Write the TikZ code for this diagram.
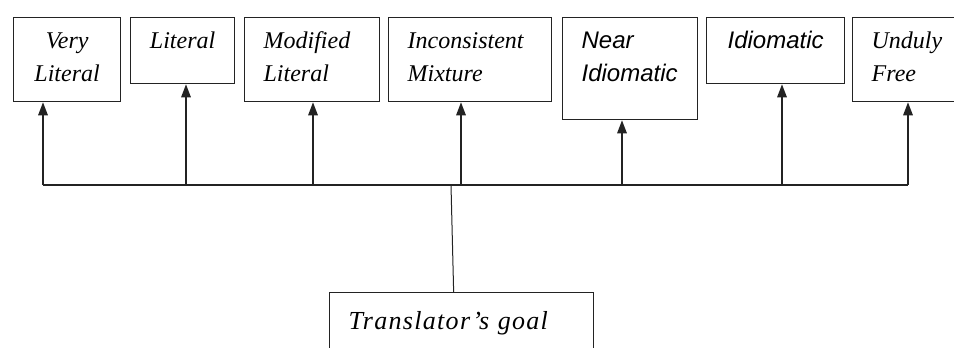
\documentclass[tikz,border=0pt]{standalone}
\usepackage{fontspec}
\setmainfont{Liberation Serif}
\setsansfont{Liberation Sans}
\newfontfamily\goalfont[LetterSpace=5]{Liberation Serif}
\usepackage{tikz}
\usetikzlibrary{arrows.meta, positioning}
\definecolor{LineDark}{RGB}{35,35,35}
\tikzset{
  basebox/.style={rectangle,draw=LineDark,line width=1.3pt,anchor=north west,
    inner xsep=19pt,inner ysep=14pt,text height=17pt},
  serifbox/.style={basebox,font=\fontsize{24pt}{33pt}\selectfont\itshape},
  sansbox/.style={basebox,font=\fontsize{24pt}{33pt}\selectfont\sffamily\itshape},
  goalbox/.style={basebox,inner ysep=20pt,text depth=40pt,
    font=\fontsize{26pt}{33pt}\selectfont\goalfont\itshape},
  uparrow/.style={-{Triangle[length=13pt,width=9.5pt]},line width=1.5pt,color=LineDark},
  busline/.style={line width=1.5pt,color=LineDark},
  thinline/.style={line width=1pt,color=LineDark}
}
\begin{document}
\begin{tikzpicture}[x=1pt,y=-1pt]
  \clip (0,0) rectangle (954,348);
  \fill[white] (0,0) rectangle (954,348);
  % translation types
  \node[serifbox,text width=69pt,align=center,text depth=39pt] (vlit) at (13,17) {Very\\Literal};
  \node[serifbox,text width=66pt,align=center,text depth=21pt] (lit) at (130,17) {Literal};
  \node[serifbox,text width=97pt,align=left,text depth=39pt] (mlit) at (244,17) {Modified\\Literal};
  \node[serifbox,text width=125pt,align=left,text depth=39pt] (imix) at (388,17) {Inconsistent\\Mixture};
  \node[sansbox,text width=97pt,align=left,text depth=57pt] (nidm) at (562,17) {Near\\Idiomatic};
  \node[sansbox,text width=100pt,align=center,text depth=21pt] (idm) at (706,17) {Idiomatic};
  \node[serifbox,text width=100pt,align=left,text depth=39pt] (ufree) at (852,17) {Unduly\\Free};
  % goal
  \node[goalbox,text width=226pt,align=left] (goal) at (329,292) {Translator’s goal};
  % connectors
  \foreach \x/\n in {43/vlit,186/lit,313/mlit,461/imix,622/nidm,782/idm,908/ufree}
    \coordinate (bus-\n) at (\x,185);
  \coordinate (hub) at (451,185);
  \draw[busline] (bus-vlit) -- (bus-ufree);
  \foreach \n in {vlit,lit,mlit,imix,nidm,idm,ufree}
    \draw[uparrow] (bus-\n) -- (bus-\n |- \n.south);
  \draw[thinline] (hub) -- ([xshift=-8pt]goal.north);
\end{tikzpicture}
\end{document}
